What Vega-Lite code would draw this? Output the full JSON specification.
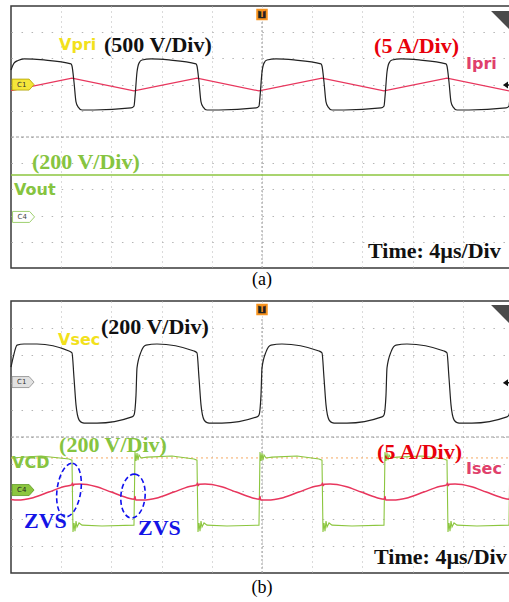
{
"$schema": "https://vega.github.io/schema/vega-lite/v6.json",
"padding": {"left": 7, "top": 4, "right": 0, "bottom": 0},
"background": "white",
"spacing": 9,
"config": {
  "view": {"stroke": "#3a3a3a", "strokeWidth": 1.5},
  "axis": {"grid": true, "labels": false, "ticks": false, "domain": false, "title": null, "gridColor": "#b5b5b5", "gridWidth": 1}
},
"datasets": {
  "vpri": [{"t":0,"v":2.56},{"t":0.24,"v":2.82},{"t":0.56,"v":2.92},{"t":1.04,"v":2.98},{"t":2.63,"v":2.94},
    {"t":4.78,"v":2.79},{"t":4.86,"v":2.71},{"t":5.02,"v":2.10},{"t":5.18,"v":1.34},{"t":5.34,"v":1.15},{"t":5.66,"v":1.03},{"t":6.61,"v":1.03},{"t":9.56,"v":1.11},{"t":9.80,"v":1.18},{"t":9.88,"v":1.53},{"t":10.04,"v":2.48},{"t":10.20,"v":2.82},{"t":10.44,"v":2.94},{"t":11.16,"v":2.98},{"t":12.59,"v":2.94},
    {"t":14.74,"v":2.79},{"t":14.82,"v":2.71},{"t":14.98,"v":2.10},{"t":15.14,"v":1.34},{"t":15.30,"v":1.15},{"t":15.62,"v":1.03},{"t":16.57,"v":1.03},{"t":19.52,"v":1.11},{"t":19.76,"v":1.18},{"t":19.84,"v":1.53},{"t":20.00,"v":2.48},{"t":20.16,"v":2.82},{"t":20.40,"v":2.94},{"t":21.12,"v":2.98},{"t":22.55,"v":2.94},
    {"t":24.70,"v":2.79},{"t":24.78,"v":2.71},{"t":24.94,"v":2.10},{"t":25.10,"v":1.34},{"t":25.26,"v":1.15},{"t":25.58,"v":1.03},{"t":26.53,"v":1.03},{"t":29.48,"v":1.11},{"t":29.72,"v":1.18},{"t":29.80,"v":1.53},{"t":29.96,"v":2.48},{"t":30.12,"v":2.82},{"t":30.36,"v":2.94},{"t":31.08,"v":2.98},{"t":32.51,"v":2.94},
    {"t":34.66,"v":2.79},{"t":34.74,"v":2.71},{"t":34.90,"v":2.10},{"t":35.06,"v":1.34},{"t":35.22,"v":1.15},{"t":35.54,"v":1.03},{"t":36.49,"v":1.03},{"t":39.44,"v":1.11},{"t":39.68,"v":1.18},{"t":39.76,"v":1.53},{"t":39.92,"v":2.48},{"t":40.0,"v":2.75}],
  "ipri": [{"t":0,"v":1.77},{"t":4.86,"v":2.25},{"t":9.80,"v":1.76},{"t":14.82,"v":2.25},{"t":19.76,"v":1.76},{"t":24.78,"v":2.25},{"t":29.72,"v":1.76},{"t":34.74,"v":2.25},{"t":39.68,"v":1.76},{"t":40,"v":1.78}],
  "vout": [{"t":0,"v":-1.45},{"t":40,"v":-1.45}],
  "vsec": [{"t":0,"v":2.57},{"t":0.16,"v":2.90},{"t":0.48,"v":3.38},{"t":1.04,"v":3.42},{"t":2.07,"v":3.42},{"t":4.62,"v":3.16},
    {"t":4.86,"v":3.09},{"t":5.02,"v":2.17},{"t":5.18,"v":1.18},{"t":5.42,"v":0.63},{"t":5.66,"v":0.53},{"t":5.98,"v":0.51},{"t":6.85,"v":0.51},{"t":9.64,"v":0.74},{"t":9.80,"v":0.81},{"t":9.96,"v":1.54},{"t":10.04,"v":2.54},{"t":10.36,"v":3.13},{"t":10.76,"v":3.38},{"t":11.63,"v":3.42},{"t":14.58,"v":3.16},
    {"t":14.82,"v":3.09},{"t":14.98,"v":2.17},{"t":15.14,"v":1.18},{"t":15.38,"v":0.63},{"t":15.62,"v":0.53},{"t":15.94,"v":0.51},{"t":16.81,"v":0.51},{"t":19.60,"v":0.74},{"t":19.76,"v":0.81},{"t":19.92,"v":1.54},{"t":20.00,"v":2.54},{"t":20.32,"v":3.13},{"t":20.72,"v":3.38},{"t":21.59,"v":3.42},{"t":24.54,"v":3.16},
    {"t":24.78,"v":3.09},{"t":24.94,"v":2.17},{"t":25.10,"v":1.18},{"t":25.34,"v":0.63},{"t":25.58,"v":0.53},{"t":25.90,"v":0.51},{"t":26.77,"v":0.51},{"t":29.56,"v":0.74},{"t":29.72,"v":0.81},{"t":29.88,"v":1.54},{"t":29.96,"v":2.54},{"t":30.28,"v":3.13},{"t":30.68,"v":3.38},{"t":31.55,"v":3.42},{"t":34.50,"v":3.16},
    {"t":34.74,"v":3.09},{"t":34.90,"v":2.17},{"t":35.06,"v":1.18},{"t":35.30,"v":0.63},{"t":35.54,"v":0.53},{"t":35.86,"v":0.51},{"t":36.73,"v":0.51},{"t":39.52,"v":0.74},{"t":39.68,"v":0.81},{"t":39.84,"v":1.54},{"t":39.92,"v":2.54},{"t":40.0,"v":2.9}],
  "vcd": [{"t":0,"v":-0.77},{"t":2.39,"v":-0.70},
    {"t":4.62,"v":-0.81},{"t":4.86,"v":-0.85},{"t":4.94,"v":-3.49},{"t":5.02,"v":-3.16},{"t":5.10,"v":-3.46},{"t":5.18,"v":-3.09},{"t":5.26,"v":-3.31},{"t":5.42,"v":-3.16},{"t":5.66,"v":-3.24},{"t":7.25,"v":-3.27},{"t":9.80,"v":-3.24},{"t":9.88,"v":-0.55},{"t":9.96,"v":-0.88},{"t":10.04,"v":-0.59},{"t":10.12,"v":-0.85},{"t":10.20,"v":-0.66},{"t":10.36,"v":-0.77},{"t":10.84,"v":-0.74},{"t":12.83,"v":-0.70},
    {"t":14.58,"v":-0.81},{"t":14.82,"v":-0.85},{"t":14.90,"v":-3.49},{"t":14.98,"v":-3.16},{"t":15.06,"v":-3.46},{"t":15.14,"v":-3.09},{"t":15.22,"v":-3.31},{"t":15.38,"v":-3.16},{"t":15.62,"v":-3.24},{"t":17.21,"v":-3.27},{"t":19.76,"v":-3.24},{"t":19.84,"v":-0.55},{"t":19.92,"v":-0.88},{"t":20.00,"v":-0.59},{"t":20.08,"v":-0.85},{"t":20.16,"v":-0.66},{"t":20.32,"v":-0.77},{"t":20.80,"v":-0.74},{"t":22.79,"v":-0.70},
    {"t":24.54,"v":-0.81},{"t":24.78,"v":-0.85},{"t":24.86,"v":-3.49},{"t":24.94,"v":-3.16},{"t":25.02,"v":-3.46},{"t":25.10,"v":-3.09},{"t":25.18,"v":-3.31},{"t":25.34,"v":-3.16},{"t":25.58,"v":-3.24},{"t":27.17,"v":-3.27},{"t":29.72,"v":-3.24},{"t":29.80,"v":-0.55},{"t":29.88,"v":-0.88},{"t":29.96,"v":-0.59},{"t":30.04,"v":-0.85},{"t":30.12,"v":-0.66},{"t":30.28,"v":-0.77},{"t":30.76,"v":-0.74},{"t":32.75,"v":-0.70},
    {"t":34.50,"v":-0.81},{"t":34.74,"v":-0.85},{"t":34.82,"v":-3.49},{"t":34.90,"v":-3.16},{"t":34.98,"v":-3.46},{"t":35.06,"v":-3.09},{"t":35.14,"v":-3.31},{"t":35.30,"v":-3.16},{"t":35.54,"v":-3.24},{"t":37.13,"v":-3.27},{"t":39.68,"v":-3.24},{"t":39.76,"v":-0.55},{"t":39.84,"v":-0.88},{"t":39.92,"v":-0.59},{"t":40.0,"v":-0.80}],
  "isec": [{"t":0,"v":-2.30},{"t":0.52,"v":-2.32},{"t":1.765,"v":-2.23},{"t":3.01,"v":-2.025},{"t":4.255,"v":-1.82},{"t":4.84,"v":-1.76},{"t":4.90,"v":-1.69},{"t":4.96,"v":-1.79},{"t":5.04,"v":-1.74},{"t":5.50,"v":-1.73},{"t":6.745,"v":-1.82},{"t":7.99,"v":-2.025},{"t":9.235,"v":-2.23},{"t":9.82,"v":-2.29},{"t":9.88,"v":-2.19},{"t":9.94,"v":-2.32},
    {"t":10.48,"v":-2.32},{"t":11.725,"v":-2.23},{"t":12.97,"v":-2.025},{"t":14.215,"v":-1.82},{"t":14.80,"v":-1.76},{"t":14.86,"v":-1.69},{"t":14.92,"v":-1.79},{"t":15.00,"v":-1.74},{"t":15.46,"v":-1.73},{"t":16.705,"v":-1.82},{"t":17.95,"v":-2.025},{"t":19.195,"v":-2.23},{"t":19.78,"v":-2.29},{"t":19.84,"v":-2.19},{"t":19.90,"v":-2.32},
    {"t":20.44,"v":-2.32},{"t":21.685,"v":-2.23},{"t":22.93,"v":-2.025},{"t":24.175,"v":-1.82},{"t":24.76,"v":-1.76},{"t":24.82,"v":-1.69},{"t":24.88,"v":-1.79},{"t":24.96,"v":-1.74},{"t":25.42,"v":-1.73},{"t":26.665,"v":-1.82},{"t":27.91,"v":-2.025},{"t":29.155,"v":-2.23},{"t":29.74,"v":-2.29},{"t":29.80,"v":-2.19},{"t":29.86,"v":-2.32},
    {"t":30.40,"v":-2.32},{"t":31.645,"v":-2.23},{"t":32.89,"v":-2.025},{"t":34.135,"v":-1.82},{"t":34.72,"v":-1.76},{"t":34.78,"v":-1.69},{"t":34.84,"v":-1.79},{"t":34.92,"v":-1.74},{"t":35.38,"v":-1.73},{"t":36.625,"v":-1.82},{"t":37.87,"v":-2.025},{"t":39.115,"v":-2.23},{"t":39.70,"v":-2.29},{"t":39.76,"v":-2.19},{"t":39.82,"v":-2.32},{"t":40,"v":-2.31}]
},
"vconcat": [
{
  "width": 502, "height": 262,
  "title": {"text": "(a)", "orient": "bottom", "anchor": "middle", "font": "Liberation Serif", "fontSize": 18, "fontWeight": "normal", "color": "#000", "offset": 2},
  "encoding": {
    "x": {"field": "t", "type": "quantitative", "scale": {"domain": [0, 40], "nice": false, "zero": false}, "axis": {"values": [4,8,12,16,20,24,28,32,36], "gridDash": [1, 4]}},
    "y": {"field": "v", "type": "quantitative", "scale": {"domain": [-5, 5], "nice": false, "zero": false}, "axis": {"values": [-4,-3,-2,-1,0,1,2,3,4], "gridDash": [1.5, 8.54]}}
  },
  "layer": [
    {"data": {"values": [{"t": 0, "t2": 40, "v": 0}]}, "mark": {"type": "rule", "color": "#9a9a9a", "strokeDash": [3, 2]}, "encoding": {"x2": {"field": "t2"}}},
    {"data": {"values": [{"t": 20, "v": -5, "v2": 4.4}]}, "mark": {"type": "rule", "color": "#9a9a9a", "strokeDash": [2, 2]}, "encoding": {"y2": {"field": "v2"}}},
    {"data": {"name": "vout"}, "mark": {"type": "line", "color": "#8cc63f", "strokeWidth": 1.4}},
    {"data": {"name": "ipri"}, "mark": {"type": "line", "color": "#e8365d", "strokeWidth": 1.2}},
    {"data": {"name": "vpri"}, "mark": {"type": "line", "color": "#222222", "strokeWidth": 1.2, "interpolate": "monotone"}},
    {"data": {"values": [{"t": 0.96, "v": 2.0}]}, "mark": {"type": "point", "shape": "M-1,-0.5 L0.55,-0.5 L1,0 L0.55,0.5 L-1,0.5 Z", "size": 484, "filled": true, "fill": "#f5e63a", "stroke": "#b3a200", "strokeWidth": 0.8, "opacity": 1}},
    {"data": {"values": [{"t": 0.85, "v": 2.0, "label": "C1"}]}, "mark": {"type": "text", "font": "DejaVu Sans", "fontSize": 7, "color": "#333", "align": "center", "baseline": "middle"}, "encoding": {"text": {"field": "label"}}},
    {"data": {"values": [{"t": 1.0, "v": -3.05}]}, "mark": {"type": "point", "shape": "M-1,-0.5 L0.55,-0.5 L1,0 L0.55,0.5 L-1,0.5 Z", "size": 484, "filled": true, "fill": "#ffffff", "stroke": "#9fd070", "strokeWidth": 1, "opacity": 1}},
    {"data": {"values": [{"t": 0.89, "v": -3.05, "label": "C4"}]}, "mark": {"type": "text", "font": "DejaVu Sans", "fontSize": 7, "color": "#444", "align": "center", "baseline": "middle"}, "encoding": {"text": {"field": "label"}}},
    {"data": {"values": [{"t": 20.0, "v": 4.68}]}, "mark": {"type": "point", "shape": "square", "size": 90, "filled": true, "fill": "#222", "stroke": "#f7931e", "strokeWidth": 2, "opacity": 1}},
    {"data": {"values": [{"t": 20.0, "v": 4.67, "label": "T"}]}, "mark": {"type": "text", "font": "DejaVu Sans", "fontSize": 8, "fontWeight": "bold", "color": "#f7931e", "align": "center", "baseline": "middle"}, "encoding": {"text": {"field": "label"}}},
    {"data": {"values": [{"t": 39.13, "v": 4.39}]}, "mark": {"type": "point", "shape": "M-1,-1 L1,-1 L1,1 Z", "size": 484, "filled": true, "fill": "#4a4a4a", "opacity": 1}},
    {"data": {"values": [{"t": 39.6, "v": 1.98}]}, "mark": {"type": "point", "shape": "M-1,0 L0,-0.7 L0,0.7 Z M0,-0.15 L1,-0.15 L1,0.15 L0,0.15 Z", "size": 100, "filled": true, "fill": "#111", "opacity": 1}},
    {"data": {"values": [{"t": 7.41, "v": 3.51, "label": "(500 V/Div)"}, {"t": 28.45, "v": -4.35, "label": "Time: 4µs/Div"}]}, "mark": {"type": "text", "font": "Liberation Serif", "fontWeight": "bold", "fontSize": 22, "color": "#111", "align": "left", "baseline": "middle"}, "encoding": {"text": {"field": "label"}}},
    {"data": {"values": [{"t": 28.93, "v": 3.47, "label": "(5 A/Div)"}]}, "mark": {"type": "text", "font": "Liberation Serif", "fontWeight": "bold", "fontSize": 22, "color": "#e8000b", "align": "left", "baseline": "middle"}, "encoding": {"text": {"field": "label"}}},
    {"data": {"values": [{"t": 1.67, "v": -0.95, "label": "(200 V/Div)"}]}, "mark": {"type": "text", "font": "Liberation Serif", "fontWeight": "bold", "fontSize": 22, "color": "#86c440", "align": "left", "baseline": "middle"}, "encoding": {"text": {"field": "label"}}},
    {"data": {"values": [{"t": 3.83, "v": 3.51, "label": "Vpri"}]}, "mark": {"type": "text", "font": "DejaVu Sans", "fontWeight": "bold", "fontSize": 16, "color": "#f2e11c", "align": "left", "baseline": "middle"}, "encoding": {"text": {"field": "label"}}},
    {"data": {"values": [{"t": 36.26, "v": 2.79, "label": "Ipri"}]}, "mark": {"type": "text", "font": "DejaVu Sans", "fontWeight": "bold", "fontSize": 16, "color": "#e0406b", "align": "left", "baseline": "middle"}, "encoding": {"text": {"field": "label"}}},
    {"data": {"values": [{"t": 0.24, "v": -2.02, "label": "Vout"}]}, "mark": {"type": "text", "font": "DejaVu Sans", "fontWeight": "bold", "fontSize": 16, "color": "#86c440", "align": "left", "baseline": "middle"}, "encoding": {"text": {"field": "label"}}}
  ]
},
{
  "width": 502, "height": 272,
  "title": {"text": "(b)", "orient": "bottom", "anchor": "middle", "font": "Liberation Serif", "fontSize": 18, "fontWeight": "normal", "color": "#000", "offset": 5},
  "encoding": {
    "x": {"field": "t", "type": "quantitative", "scale": {"domain": [0, 40], "nice": false, "zero": false}, "axis": {"values": [4,8,12,16,20,24,28,32,36], "gridDash": [1, 4]}},
    "y": {"field": "v", "type": "quantitative", "scale": {"domain": [-5, 5], "nice": false, "zero": false}, "axis": {"values": [-4,-3,-2,-1,0,1,2,3,4], "gridDash": [1.5, 8.54]}}
  },
  "layer": [
    {"data": {"values": [{"t": 0, "t2": 40, "v": 0}]}, "mark": {"type": "rule", "color": "#9a9a9a", "strokeDash": [3, 2]}, "encoding": {"x2": {"field": "t2"}}},
    {"data": {"values": [{"t": 20, "v": -5, "v2": 4.4}]}, "mark": {"type": "rule", "color": "#9a9a9a", "strokeDash": [2, 2]}, "encoding": {"y2": {"field": "v2"}}},
    {"data": {"values": [{"t": 0, "t2": 40, "v": -0.77}]}, "mark": {"type": "rule", "color": "#f5a860", "strokeDash": [2, 3]}, "encoding": {"x2": {"field": "t2"}}},
    {"data": {"name": "vcd"}, "mark": {"type": "line", "color": "#8cc63f", "strokeWidth": 1.1}},
    {"data": {"name": "isec"}, "mark": {"type": "line", "color": "#e8365d", "strokeWidth": 1.5, "interpolate": "monotone"}},
    {"data": {"name": "vsec"}, "mark": {"type": "line", "color": "#222222", "strokeWidth": 1.2, "interpolate": "monotone"}},
    {"data": {"values": [{"t": 0.96, "v": 2.02}]}, "mark": {"type": "point", "shape": "M-1,-0.5 L0.55,-0.5 L1,0 L0.55,0.5 L-1,0.5 Z", "size": 484, "filled": true, "fill": "#e2e2e2", "stroke": "#8a8a8a", "strokeWidth": 0.8, "opacity": 1}},
    {"data": {"values": [{"t": 0.85, "v": 2.02, "label": "C1"}]}, "mark": {"type": "text", "font": "DejaVu Sans", "fontSize": 7, "color": "#333", "align": "center", "baseline": "middle"}, "encoding": {"text": {"field": "label"}}},
    {"data": {"values": [{"t": 0.96, "v": -1.95}]}, "mark": {"type": "point", "shape": "M-1,-0.5 L0.55,-0.5 L1,0 L0.55,0.5 L-1,0.5 Z", "size": 484, "filled": true, "fill": "#8cc63f", "stroke": "#5e9a22", "strokeWidth": 0.8, "opacity": 1}},
    {"data": {"values": [{"t": 0.85, "v": -1.95, "label": "C4"}]}, "mark": {"type": "text", "font": "DejaVu Sans", "fontSize": 7, "color": "#222", "align": "center", "baseline": "middle"}, "encoding": {"text": {"field": "label"}}},
    {"data": {"values": [{"t": 20.0, "v": 4.69}]}, "mark": {"type": "point", "shape": "square", "size": 90, "filled": true, "fill": "#222", "stroke": "#f7931e", "strokeWidth": 2, "opacity": 1}},
    {"data": {"values": [{"t": 20.0, "v": 4.68, "label": "T"}]}, "mark": {"type": "text", "font": "DejaVu Sans", "fontSize": 8, "fontWeight": "bold", "color": "#f7931e", "align": "center", "baseline": "middle"}, "encoding": {"text": {"field": "label"}}},
    {"data": {"values": [{"t": 39.13, "v": 4.45}]}, "mark": {"type": "point", "shape": "M-1,-1 L1,-1 L1,1 Z", "size": 484, "filled": true, "fill": "#4a4a4a", "opacity": 1}},
    {"data": {"values": [{"t": 39.6, "v": 1.99}]}, "mark": {"type": "point", "shape": "M-1,0 L0,-0.7 L0,0.7 Z M0,-0.15 L1,-0.15 L1,0.15 L0,0.15 Z", "size": 100, "filled": true, "fill": "#111", "opacity": 1}},
    {"data": {"values": [{"t": 4.62, "v": -1.95}]}, "mark": {"type": "point", "shape": "M0,-1 C0.243,-1 0.44,-0.552 0.44,0 C0.44,0.552 0.243,1 0,1 C-0.243,1 -0.44,0.552 -0.44,0 C-0.44,-0.552 -0.243,-1 0,-1 Z", "size": 2916, "filled": false, "stroke": "#1010ee", "strokeWidth": 1.6, "strokeDash": [5, 3], "angle": 8, "opacity": 1}},
    {"data": {"values": [{"t": 9.72, "v": -2.17}]}, "mark": {"type": "point", "shape": "M0,-1 C0.304,-1 0.55,-0.552 0.55,0 C0.55,0.552 0.304,1 0,1 C-0.304,1 -0.55,0.552 -0.55,0 C-0.55,-0.552 -0.304,-1 0,-1 Z", "size": 1936, "filled": false, "stroke": "#1010ee", "strokeWidth": 1.6, "strokeDash": [5, 3], "angle": 5, "opacity": 1}},
    {"data": {"values": [{"t": 7.17, "v": 4.04, "label": "(200 V/Div)"}, {"t": 28.93, "v": -4.41, "label": "Time: 4µs/Div"}]}, "mark": {"type": "text", "font": "Liberation Serif", "fontWeight": "bold", "fontSize": 22, "color": "#111", "align": "left", "baseline": "middle"}, "encoding": {"text": {"field": "label"}}},
    {"data": {"values": [{"t": 29.17, "v": -0.55, "label": "(5 A/Div)"}]}, "mark": {"type": "text", "font": "Liberation Serif", "fontWeight": "bold", "fontSize": 22, "color": "#e8000b", "align": "left", "baseline": "middle"}, "encoding": {"text": {"field": "label"}}},
    {"data": {"values": [{"t": 3.83, "v": -0.29, "label": "(200 V/Div)"}]}, "mark": {"type": "text", "font": "Liberation Serif", "fontWeight": "bold", "fontSize": 22, "color": "#86c440", "align": "left", "baseline": "middle"}, "encoding": {"text": {"field": "label"}}},
    {"data": {"values": [{"t": 1.04, "v": -3.09, "label": "ZVS"}, {"t": 10.12, "v": -3.35, "label": "ZVS"}]}, "mark": {"type": "text", "font": "Liberation Serif", "fontWeight": "bold", "fontSize": 22, "color": "#1414e6", "align": "left", "baseline": "middle"}, "encoding": {"text": {"field": "label"}}},
    {"data": {"values": [{"t": 3.75, "v": 3.57, "label": "Vsec"}]}, "mark": {"type": "text", "font": "DejaVu Sans", "fontWeight": "bold", "fontSize": 16, "color": "#f2e11c", "align": "left", "baseline": "middle"}, "encoding": {"text": {"field": "label"}}},
    {"data": {"values": [{"t": 0.08, "v": -0.96, "label": "VCD"}]}, "mark": {"type": "text", "font": "DejaVu Sans", "fontWeight": "bold", "fontSize": 16, "color": "#86c440", "align": "left", "baseline": "middle"}, "encoding": {"text": {"field": "label"}}},
    {"data": {"values": [{"t": 36.26, "v": -1.18, "label": "Isec"}]}, "mark": {"type": "text", "font": "DejaVu Sans", "fontWeight": "bold", "fontSize": 16, "color": "#e0406b", "align": "left", "baseline": "middle"}, "encoding": {"text": {"field": "label"}}}
  ]
}
]
}
